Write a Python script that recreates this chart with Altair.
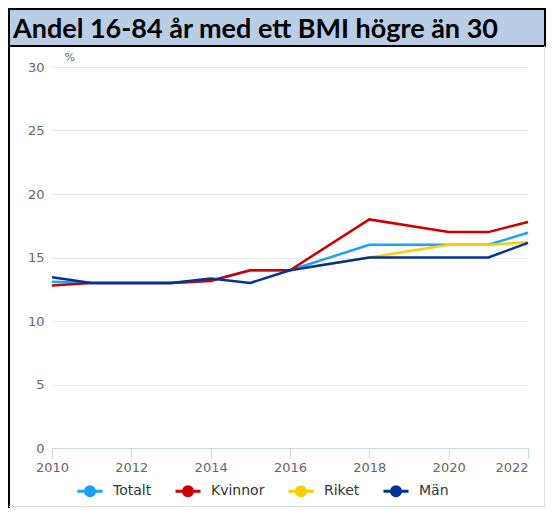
import altair as alt
import pandas as pd

# ---- data ----
years = [2010, 2011, 2012, 2013, 2014, 2015, 2016, 2018, 2020, 2021, 2022]
totalt = [13.1, 13.0, 13.0, 13.0, 13.2, 14.0, 14.0, 16.0, 16.0, 16.0, 16.95]
kvinnor = [12.8, 13.0, 13.0, 13.0, 13.15, 14.0, 14.0, 18.0, 17.0, 17.0, 17.8]
riket = [None, None, None, None, None, None, 14.0, 15.0, 16.0, 16.0, 16.2]
man = [13.45, 13.0, 13.0, 13.0, 13.35, 13.0, 14.0, 15.0, 15.0, 15.0, 16.15]

series_names = ["Totalt", "Kvinnor", "Riket", "Män"]
series_colors = ["#1aa0ff", "#cc0000", "#ffcc00", "#003399"]
y_ticks = [0, 5, 10, 15, 20, 25, 30]
x_ticks = [2010, 2012, 2014, 2016, 2018, 2020, 2022]
title_text = "Andel 16-84 år med ett BMI högre än 30"
unit_text = "%"

rows = []
for name, vals in zip(series_names, [totalt, kvinnor, riket, man]):
    for yr, v in zip(years, vals):
        if v is not None:
            rows.append({"year": yr, "value": v, "serie": name})
df = pd.DataFrame(rows)

W, H = 476, 381

# legend symbol: line with a filled circle (concentric rings)
sym = ("M-1,0L1,0"
       "M0.36,0A0.36,0.36,0,1,1,-0.36,0A0.36,0.36,0,1,1,0.36,0"
       "M0.2,0A0.2,0.2,0,1,1,-0.2,0A0.2,0.2,0,1,1,0.2,0"
       "M0.06,0A0.06,0.06,0,1,1,-0.06,0A0.06,0.06,0,1,1,0.06,0")

lines = alt.Chart(df).mark_line(strokeWidth=2.5, clip=False).encode(
    x=alt.X("year:Q",
            scale=alt.Scale(domain=[2010, 2022], nice=False, zero=False),
            axis=alt.Axis(values=x_ticks, format="d", title=None, grid=False,
                          domainColor="#ccd6eb", tickColor="#ccd6eb", tickSize=10,
                          labelPadding=3, labelColor="#666666", labelFontSize=13,
                          labelFont="DejaVu Sans",
                          labelAlign=alt.ExprRef(expr="datum.value == 2022 ? 'right' : 'center'"))),
    y=alt.Y("value:Q",
            scale=alt.Scale(domain=[0, 30], nice=False),
            axis=alt.Axis(values=y_ticks, title=unit_text, titleAngle=0, titleX=12, titleY=-10,
                          titleAlign="left", titleBaseline="middle", titleFontSize=11,
                          titleFontWeight="normal", titleColor="#666666", titleFont="DejaVu Sans",
                          domain=False, ticks=False, gridColor="#e6e6e6",
                          labelPadding=8, labelColor="#666666", labelFontSize=13,
                          labelFont="DejaVu Sans")),
    color=alt.Color("serie:N",
                    scale=alt.Scale(domain=series_names, range=series_colors),
                    sort=series_names,
                    legend=alt.Legend(title=None, orient="none", legendX=24, legendY=410,
                                      direction="horizontal", symbolType=sym, symbolSize=625,
                                      symbolStrokeWidth=3, labelOffset=9, columnPadding=17,
                                      labelFont="DejaVu Sans", labelFontSize=14,
                                      labelColor="#333333", padding=0)),
    detail="serie:N",
)

one = pd.DataFrame({"t": [title_text]})
banner = alt.Chart(one).mark_rect(fill="#b9cde5", stroke="#000000", strokeWidth=2).encode(
    x=alt.value(-43), x2=alt.value(493), y=alt.value(-58), y2=alt.value(-21))
title = alt.Chart(one).mark_text(align="left", baseline="alphabetic", font="Lato",
                                  fontSize=27, fontWeight="bold", color="#000000").encode(
    x=alt.value(-39), y=alt.value(-29), text="t:N")
left_border = alt.Chart(one).mark_rule(color="#000000", strokeWidth=2).encode(
    x=alt.value(-43), y=alt.value(-58), y2=alt.value(441))
right_border = alt.Chart(one).mark_rule(color="#dddddd", strokeWidth=1).encode(
    x=alt.value(492.5), y=alt.value(-21), y2=alt.value(440))
bottom_border = alt.Chart(one).mark_rule(color="#dddddd", strokeWidth=1).encode(
    x=alt.value(-43), x2=alt.value(493), y=alt.value(439.5))

chart = alt.layer(lines, banner, title, left_border, right_border, bottom_border).properties(
    width=W, height=H,
    autosize=alt.AutoSizeParams(type="none"),
    padding={"left": 44, "top": 59, "right": 18, "bottom": 60},
    background="#ffffff",
).configure_view(stroke=None)

chart.save("out.html", embed_options={"renderer": "svg", "actions": False})
